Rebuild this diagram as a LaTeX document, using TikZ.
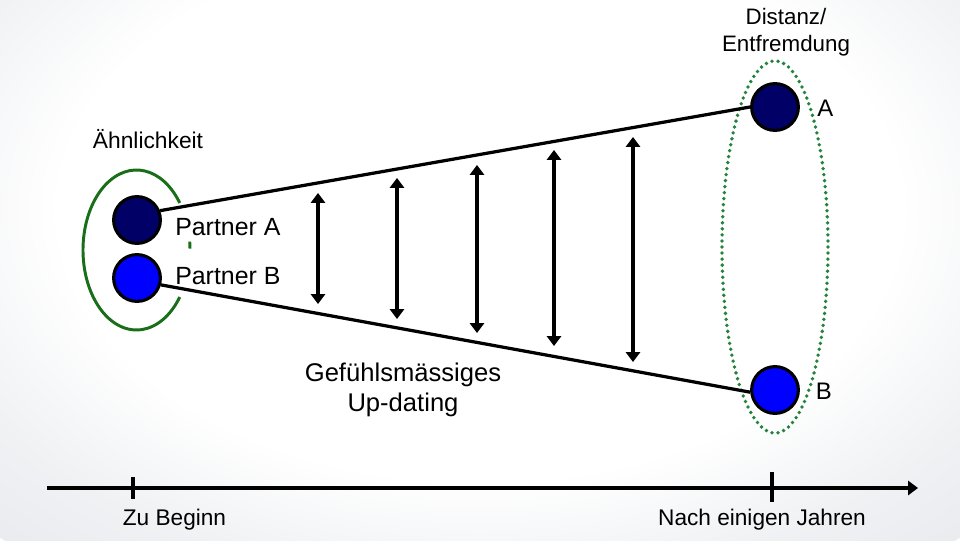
\documentclass[tikz,border=0pt]{standalone}
\usepackage{fontspec}
\setmainfont{Liberation Sans}
\usepackage{xcolor}
\definecolor{navy}{RGB}{0,0,102}
\definecolor{blau}{RGB}{0,0,255}
\definecolor{gruenD}{RGB}{25,110,25}
\definecolor{gruenP}{RGB}{35,130,60}
\usepackage{tikz}
\usetikzlibrary{arrows.meta,positioning,calc}
\pgfdeclareradialshading{hintergrund}{\pgfpoint{0bp}{0bp}}{%
  rgb(0bp)=(1,1,1); rgb(15bp)=(1,1,1); rgb(21bp)=(0.94,0.945,0.955);
  rgb(33bp)=(0.865,0.88,0.9); rgb(40bp)=(0.81,0.83,0.86); rgb(50bp)=(0.8,0.825,0.855)}

\begin{document}
\begin{tikzpicture}[x=0.025cm,y=-0.025cm,
    kreis/.style={circle,draw=black,line width=2.2pt,fill=#1,
      minimum size=1.17cm,inner sep=0pt},
    schrift/.style={inner sep=0pt,font=\fontsize{#1}{#1}\selectfont},
    linie/.style={line width=2.3pt},
    pfeil/.style={{Triangle[length=7pt,width=10pt]}-{Triangle[length=7pt,width=10pt]},line width=2.8pt},
    achse/.style={-{Triangle[length=7pt,width=10pt]},line width=2.3pt}
    ]
    % Hintergrund
    \useasboundingbox (0,0) rectangle (960,540);
    \begin{scope}
      \clip (0,0) rectangle (960,540);
      \shade[shading=hintergrund] (480,210) ellipse [x radius=700, y radius=450];
    \end{scope}

    % Ellipsen
    \coordinate (mL) at (136.5,250);
    \coordinate (mR) at (775,247);
    \draw[gruenD,line width=2.1pt] (mL) ++(-36:53.5 and 80)
      arc[start angle=-36,end angle=-324,x radius=53.5,y radius=80];
    \draw[gruenD,line width=2.1pt] (mL) ++(-6:53.5 and 80)
      arc[start angle=-6,end angle=-1,x radius=53.5,y radius=80];
    \draw[gruenP,line width=2.7pt,line cap=round,dash pattern=on 0pt off 4.3pt]
      (mR) ellipse [x radius=53, y radius=186];

    % Partner
    \node[kreis=navy] (pA) at (137,220) {};
    \node[kreis=blau] (pB) at (137,278) {};
    \node[kreis=navy] (fA) at (775,107) {};
    \node[kreis=blau] (fB) at (775,390) {};
    \draw[linie] (pA.22) -- (fA.180);
    \draw[linie] (pB.-16) -- (fB.185);

    % Up-dating Pfeile
    \foreach \x/\yo/\yu in {318/193/304,397/178/319,477/165/333,554/150/346,633/137/362}{
      \coordinate (o\x) at (\x,\yo);
      \coordinate (u\x) at (\x,\yu);
      \draw[pfeil] (o\x) -- (u\x);
    }

    % Texte
    \node[schrift=16.2,anchor=base] (aehnl) at (148,148) {Ähnlichkeit};
    \node[schrift=17.7,anchor=base west] (lblA) at (175,235) {Partner A};
    \node[schrift=17.7,anchor=base west] (lblB) at (175,284.5) {Partner B};
    \node[schrift=17,anchor=base west] (txtA) at (817,116) {A};
    \node[schrift=17,anchor=base west] (txtB) at (815.5,399) {B};
    \node[inner sep=0pt,align=center,font=\fontsize{15.9}{19.2}\selectfont] (dist) at (786,32.6) {Distanz/\\Entfremdung};
    \node[inner sep=0pt,align=center,font=\fontsize{18.2}{21.3}\selectfont] (gef) at (403,390) {Gefühlsmässiges\\Up-dating};

    % Zeitachse
    \coordinate (ax0) at (47,488);
    \coordinate (ax1) at (918,488);
    \draw[achse] (ax0) -- (ax1);
    \coordinate (t1o) at (133,477);
    \coordinate (t1u) at (133,499);
    \coordinate (t2o) at (772,472);
    \coordinate (t2u) at (772,502);
    \draw[linie] (t1o) -- (t1u);
    \draw[linie] (t2o) -- (t2u);
    \node[schrift=16.1,anchor=base] (beginn) at (174.5,525) {Zu Beginn};
    \node[schrift=16.1,anchor=base] (jahre) at (762,525) {Nach einigen Jahren};
  \end{tikzpicture}
\end{document}
